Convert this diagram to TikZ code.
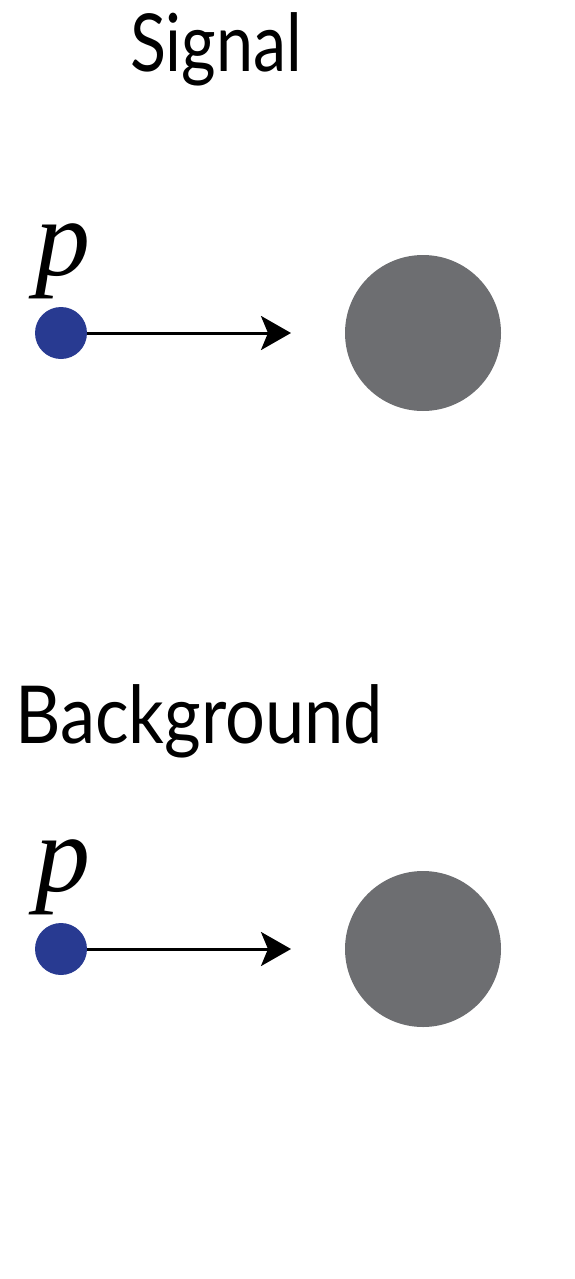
\documentclass[tikz,border=0pt]{standalone}
\usepackage{fontspec}
\setmainfont{Lato}
\newfontfamily\pfont{Liberation Serif}
\usetikzlibrary{arrows.meta}
\definecolor{dotblue}{HTML}{283A91}
\definecolor{ballgray}{HTML}{6D6E71}
\begin{document}
\begin{tikzpicture}[x=1pt,y=-1pt,
  title/.style={font=\fontsize{80}{90}\selectfont, anchor=base west, inner sep=0},
  plabel/.style={font=\pfont\itshape\fontsize{110}{120}\selectfont, anchor=base west, inner sep=0},
  particle/.style={circle, fill=dotblue, minimum size=52pt, inner sep=0},
  target/.style={circle, fill=ballgray, minimum size=156pt, inner sep=0},
  beam/.style={line width=3pt, -{Stealth[length=30pt,width=34pt,inset=7pt]}}]
\useasboundingbox (0,0) rectangle (575,1279);
% Signal
\node[title, xscale=0.83] (t1) at (130,72) {Signal};
\node[plabel] (p1) at (35,275) {p};
\node[particle] (d1) at (61,333) {};
\node[target] (g1) at (423,333) {};
\coordinate (e1) at (291,333);
\draw[beam] (d1.east) -- (e1);
% Background
\node[title, xscale=0.88] (t2) at (15,743) {Background};
\node[plabel] (p2) at (35,891) {p};
\node[particle] (d2) at (61,949) {};
\node[target] (g2) at (423,949) {};
\coordinate (e2) at (291,949);
\draw[beam] (d2.east) -- (e2);
\end{tikzpicture}
\end{document}
